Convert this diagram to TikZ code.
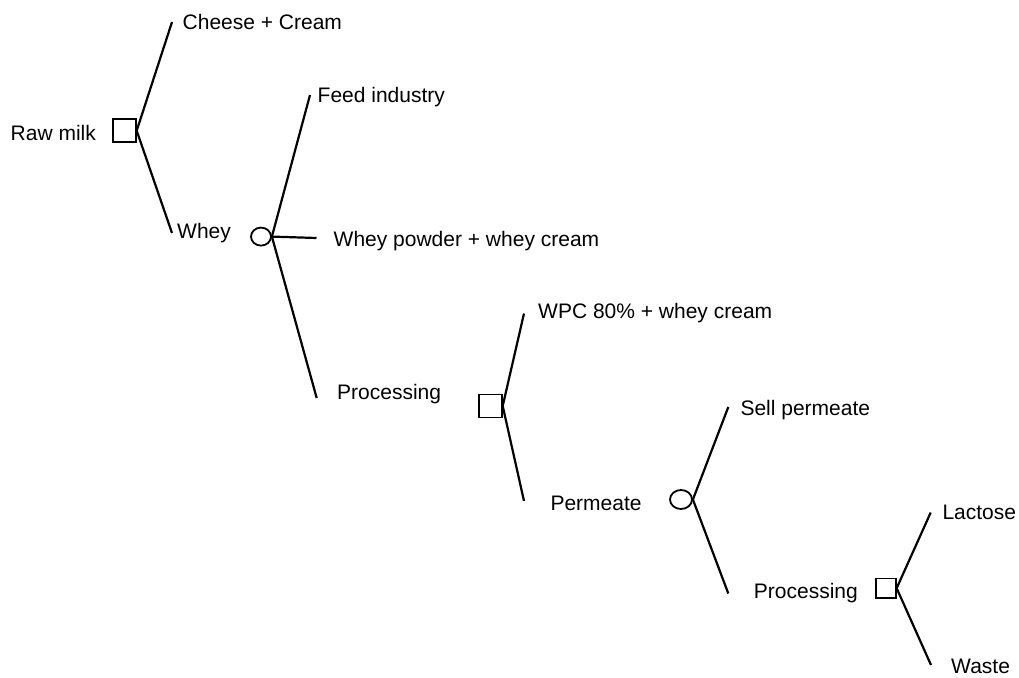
\documentclass[tikz,border=0pt]{standalone}
\usepackage{fontspec}
\setmainfont{Liberation Sans}
\usetikzlibrary{shapes.geometric}
\begin{document}
\begin{tikzpicture}[x=1pt,y=-1pt,
  decision/.style={draw=black,line width=1.8pt,rectangle,inner sep=0pt,minimum width=#1,minimum height=#1},
  chance/.style={draw=black,line width=1.8pt,ellipse,inner sep=0pt},
  branch/.style={draw=black,line width=2.2pt},
  lbl/.style={inner sep=0pt,anchor=base west,font=\fontsize{21}{25}\selectfont}]
\useasboundingbox (0,0) rectangle (1019,677);
% decision / chance nodes
\node[decision=23pt] (raw) at (124.3,130.7) {};
\node[chance,minimum width=20pt,minimum height=18pt] (whey) at (261,236.6) {};
\node[decision=23pt] (proc1) at (490.3,406) {};
\node[chance,minimum width=22pt,minimum height=19pt] (perm) at (681,499.5) {};
\node[decision=19.5pt] (proc2) at (886,588.2) {};
% line ends
\coordinate (eCheese) at (172,22);
\coordinate (eWhey) at (172,233);
\coordinate (eFeed) at (310,95);
\coordinate (ePowder) at (316.5,238);
\coordinate (eProc1) at (316.7,398);
\coordinate (eWPC) at (524,313.5);
\coordinate (ePerm) at (524,501);
\coordinate (eSell) at (728.3,407);
\coordinate (eProc2) at (728.3,593.5);
\coordinate (eLact) at (930.7,512.5);
\coordinate (eWaste) at (931,665);
% connectors
\draw[branch] (raw.east) -- (eCheese);
\draw[branch] (raw.east) -- (eWhey);
\draw[branch] (whey.east) -- (eFeed);
\draw[branch] (whey.east) -- (ePowder);
\draw[branch] (whey.east) -- (eProc1);
\draw[branch] (proc1.east) -- (eWPC);
\draw[branch] (proc1.east) -- (ePerm);
\draw[branch] (perm.east) -- (eSell);
\draw[branch] (perm.east) -- (eProc2);
\draw[branch] (proc2.east) -- (eLact);
\draw[branch] (proc2.east) -- (eWaste);
% labels
\node[lbl] (tRaw) at (10.5,140) {Raw milk};
\node[lbl] (tCheese) at (182.5,30) {Cheese + Cream};
\node[lbl] (tWhey) at (177,238.3) {Whey};
\node[lbl] (tFeed) at (317.5,102.7) {Feed industry};
\node[lbl] (tPowder) at (333.5,246) {Whey powder + whey cream};
\node[lbl] (tProc1) at (337,399.3) {Processing};
\node[lbl] (tWPC) at (538,318.3) {WPC 80\% + whey cream};
\node[lbl] (tPerm) at (550.3,510) {Permeate};
\node[lbl] (tSell) at (740.3,415) {Sell permeate};
\node[lbl] (tProc2) at (753.7,598) {Processing};
\node[lbl] (tLact) at (942.3,519) {Lactose};
\node[lbl] (tWaste) at (951,673.5) {Waste};
\end{tikzpicture}
\end{document}
